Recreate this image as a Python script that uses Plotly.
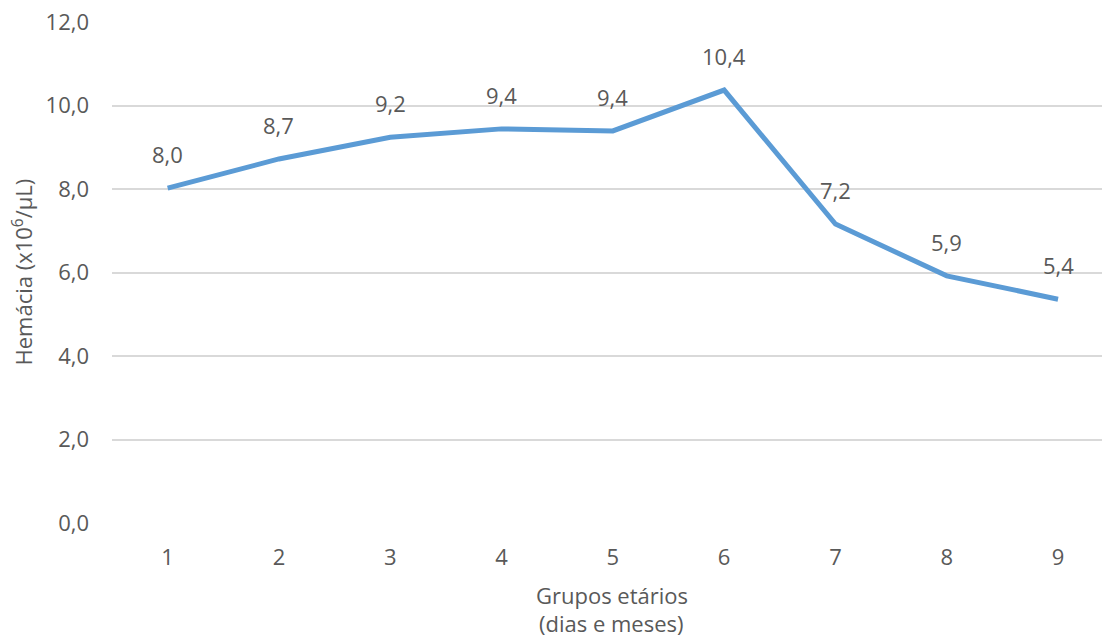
import plotly.graph_objects as go

grupos = [1, 2, 3, 4, 5, 6, 7, 8, 9]
hemacias = [8.02, 8.72, 9.24, 9.44, 9.39, 10.37, 7.16, 5.92, 5.36]
y_ticks = [0, 2, 4, 6, 8, 10, 12]

TEXT = "#595959"
FONT = "Open Sans"
FS = 22

fig = go.Figure()
fig.add_trace(go.Scatter(
    x=grupos, y=hemacias, mode="lines",
    line=dict(color="#5B9BD5", width=5),
    hoverinfo="skip", showlegend=False,
))

# value labels above each point
for gx, gy in zip(grupos, hemacias):
    fig.add_annotation(
        x=gx, y=gy, text=f"{gy:.1f}".replace(".", ","),
        showarrow=False, yshift=34,
        font=dict(family=FONT, size=FS, color=TEXT),
    )

fig.update_layout(
    width=1102, height=636,
    margin=dict(l=112, r=0, t=22, b=113),
    plot_bgcolor="white", paper_bgcolor="white",
    separators=",.",
    font=dict(family=FONT, size=FS, color=TEXT),
    xaxis=dict(
        range=[0.5, 9.395], tickvals=grupos, ticktext=[str(g) for g in grupos],
        showgrid=False, zeroline=False, showline=False, ticks="",
        ticklabelstandoff=19,
    ),
    yaxis=dict(
        range=[0, 12], tickvals=y_ticks, tickformat=".1f",
        showgrid=True, gridcolor="#d9d9d9", gridwidth=1.5,
        zeroline=False, showline=False, ticks="", ticklabelstandoff=22,
    ),
)

# x-axis title, two lines
for line_text, ypos in [("Grupos etários", -0.1437), ("(dias e meses)", -0.1996)]:
    fig.add_annotation(
        xref="paper", yref="paper", x=0.505, y=ypos, yanchor="middle",
        text=line_text, showarrow=False,
        font=dict(family=FONT, size=FS, color=TEXT),
    )
fig.add_annotation(
    xref="paper", yref="paper", x=-0.0909, xanchor="center", y=0.5,
    text="Hemácia (x10<sup>6</sup>/µL)", showarrow=False, textangle=-90,
    font=dict(family=FONT, size=FS, color=TEXT),
)

fig.write_html("out.html")
